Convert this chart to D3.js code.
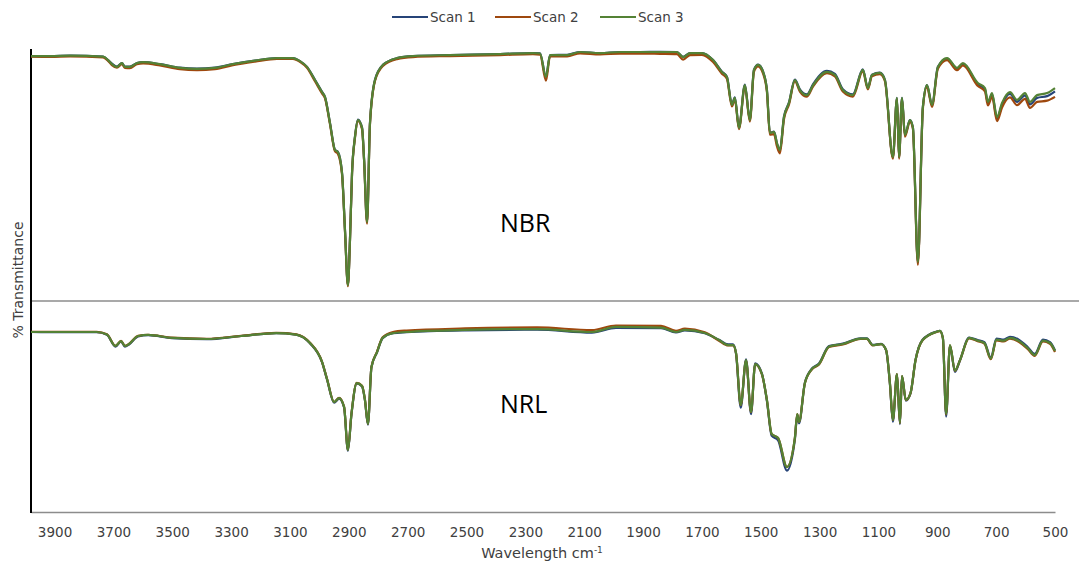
<!DOCTYPE html>
<html>
<head>
<meta charset="utf-8">
<script src="https://cdn.jsdelivr.net/npm/d3@7"></script>
<style>
  body { margin: 0; background: #fff; }
  svg { display: block; }
  text { font-family: "DejaVu Sans", sans-serif; fill: #404040; }
</style>
</head>
<body>
<div class="canvas"></div>
<script>
const dims = { w: 1079, h: 563 };

// wavenumbers (cm-1) and % transmittance
const xTicks = [3900, 3700, 3500, 3300, 3100, 2900, 2700, 2500, 2300, 2100, 1900, 1700, 1500, 1300, 1100, 900, 700, 500];
const scanNames = ['Scan 1', 'Scan 2', 'Scan 3'];
const scanColors = ['#264478', '#9e480e', '#548235'];

const nbrWave = [
  3980, 3915, 3847, 3735, 3718, 3705, 3688, 3671, 3661, 3644,
  3620, 3599, 3542, 3474, 3416, 3355, 3294, 3219, 3144, 3090,
  3066, 3042, 3015, 2991, 2981, 2964, 2947, 2937, 2923, 2913,
  2903, 2896, 2889, 2879, 2869, 2855, 2848, 2838, 2828, 2811,
  2784, 2736, 2682, 2556, 2386, 2274, 2250, 2230, 2216, 2158,
  2114, 2046, 1978, 1910, 1842, 1785, 1764, 1740, 1700, 1662,
  1632, 1615, 1598, 1588, 1574, 1554, 1537, 1523, 1509, 1492,
  1479, 1469, 1455, 1445, 1435, 1421, 1404, 1384, 1367, 1343,
  1322, 1275, 1248, 1221, 1187, 1153, 1136, 1122, 1095, 1078,
  1051, 1037, 1030, 1020, 1010, 993, 983, 966, 949, 935,
  918, 898, 867, 833, 813, 762, 738, 728, 714, 697,
  680, 653, 629, 602, 585, 561, 527, 500
];
const nbrScan1 = [
  97.2, 97.2, 97.4, 97.0, 95.6, 94.2, 93.0, 94.4, 93.0, 93.0,
  94.4, 94.8, 94.0, 92.6, 92.2, 92.6, 94.0, 95.4, 96.4, 96.4,
  95.2, 92.9, 87.8, 83.0, 81.0, 70.8, 60.0, 59.2, 50.9, 28.4,
  6.4, 24.4, 50.9, 65.2, 72.0, 68.8, 56.2, 31.4, 70.8, 87.8,
  93.7, 96.4, 97.2, 97.6, 98.0, 98.4, 98.3, 89.0, 97.6, 97.7,
  98.8, 98.4, 98.8, 98.8, 98.9, 98.8, 96.9, 98.4, 98.4, 95.6,
  91.0, 89.0, 78.0, 80.8, 68.8, 85.9, 72.0, 91.8, 93.8, 91.0,
  83.8, 66.8, 67.2, 62.6, 59.6, 73.2, 78.8, 87.9, 84.0, 82.0,
  86.1, 91.3, 90.1, 84.0, 82.0, 91.9, 84.6, 89.8, 90.6, 87.8,
  57.0, 80.6, 57.0, 80.6, 65.8, 71.8, 69.0, 15.2, 77.0, 85.7,
  77.8, 92.9, 96.2, 92.3, 94.1, 86.0, 84.0, 78.5, 82.0, 72.4,
  78.0, 82.2, 79.0, 81.6, 78.0, 80.6, 81.3, 83.2
];
const nbrScan2 = [
  97.0, 96.9, 97.1, 96.7, 95.3, 93.6, 92.6, 94.0, 92.5, 92.4,
  94.0, 94.3, 93.5, 92.0, 91.6, 92.0, 93.6, 95.0, 96.1, 96.1,
  94.9, 92.5, 87.2, 82.4, 80.5, 70.2, 59.4, 58.4, 50.2, 27.8,
  5.9, 23.8, 50.4, 64.7, 71.5, 68.2, 55.6, 30.7, 70.2, 87.3,
  93.3, 96.0, 96.8, 97.2, 97.6, 98.0, 97.8, 87.4, 97.1, 97.1,
  98.3, 97.9, 98.2, 98.2, 98.1, 98.0, 95.8, 97.6, 97.7, 94.8,
  90.2, 88.2, 77.2, 80.0, 68.2, 85.2, 71.2, 91.0, 93.1, 90.2,
  83.0, 66.0, 66.2, 61.4, 58.6, 72.2, 78.0, 87.2, 83.1, 81.1,
  85.2, 90.4, 89.1, 83.1, 81.1, 91.2, 84.0, 89.2, 90.0, 87.2,
  56.5, 80.1, 56.5, 80.0, 65.2, 71.2, 68.4, 14.3, 76.4, 85.0,
  77.0, 92.2, 95.6, 91.6, 93.5, 85.3, 83.2, 77.6, 81.0, 71.4,
  76.8, 80.8, 77.7, 80.2, 76.6, 79.0, 79.5, 81.0
];
const nbrScan3 = [
  97.2, 97.2, 97.4, 97.0, 95.6, 94.0, 92.9, 94.4, 92.9, 92.9,
  94.4, 94.8, 94.0, 92.5, 92.1, 92.5, 94.0, 95.4, 96.4, 96.4,
  95.2, 92.9, 87.7, 82.9, 81.0, 70.6, 59.9, 59.1, 50.8, 28.2,
  6.3, 24.2, 50.8, 65.1, 71.8, 68.7, 56.0, 31.3, 70.6, 87.7,
  93.7, 96.4, 97.2, 97.6, 98.0, 98.4, 98.2, 88.9, 97.6, 97.6,
  98.8, 98.4, 98.8, 98.8, 98.8, 98.8, 96.8, 98.4, 98.4, 95.6,
  90.9, 88.9, 77.8, 80.6, 68.7, 85.7, 71.8, 91.7, 93.7, 90.9,
  83.7, 66.7, 67.1, 62.7, 59.9, 73.0, 78.6, 87.7, 83.7, 81.7,
  85.7, 90.9, 89.7, 83.7, 81.7, 91.7, 84.5, 89.7, 90.5, 87.7,
  57.1, 80.6, 57.1, 80.6, 65.9, 71.8, 69.0, 15.5, 77.0, 85.7,
  77.8, 92.9, 96.4, 92.5, 94.4, 86.5, 84.5, 79.0, 82.5, 73.0,
  78.6, 82.9, 79.8, 82.5, 79.0, 81.7, 82.5, 84.5
];

const nrlWave = [
  3980, 3881, 3757, 3722, 3693, 3674, 3661, 3647, 3616, 3582,
  3501, 3382, 3266, 3147, 3079, 3032, 2991, 2974, 2950, 2933,
  2916, 2903, 2891, 2873, 2855, 2845, 2835, 2823, 2804, 2785,
  2750, 2704, 2505, 2260, 2074, 1992, 1839, 1788, 1758, 1690,
  1642, 1611, 1594, 1584, 1568, 1550, 1533, 1519, 1496, 1479,
  1463, 1441, 1411, 1384, 1376, 1370, 1350, 1326, 1302, 1268,
  1221, 1161, 1139, 1120, 1091, 1074, 1061, 1051, 1037, 1027,
  1020, 1007, 991, 974, 950, 905, 891, 881, 870, 857,
  840, 823, 792, 763, 740, 718, 699, 675, 653, 622,
  593, 569, 541, 517, 500
];
const nrlScan1 = [
  85.3, 85.2, 85.2, 84.0, 78.4, 80.8, 78.4, 79.4, 83.2, 83.8,
  82.4, 81.9, 83.4, 84.8, 84.1, 80.0, 71.0, 62.8, 51.8, 53.7,
  49.5, 29.0, 46.2, 61.0, 59.5, 52.8, 41.4, 68.6, 75.7, 82.4,
  84.7, 85.2, 86.1, 86.4, 85.0, 87.3, 87.1, 85.1, 86.1, 84.7,
  81.6, 79.4, 79.4, 75.0, 49.4, 72.4, 46.4, 70.4, 65.6, 52.6,
  36.2, 34.0, 19.6, 34.4, 46.0, 42.0, 61.3, 68.0, 70.4, 78.6,
  79.8, 82.3, 82.3, 79.2, 79.7, 76.6, 60.6, 42.8, 65.2, 41.6,
  64.3, 52.8, 56.2, 72.0, 81.6, 85.4, 85.9, 82.4, 45.2, 78.8,
  66.4, 71.8, 82.7, 81.5, 80.5, 73.2, 82.2, 81.7, 83.0, 81.6,
  78.2, 74.9, 81.7, 80.5, 76.6
];
const nrlScan2 = [
  85.4, 85.4, 85.4, 84.2, 78.8, 81.1, 78.8, 79.7, 83.5, 84.0,
  82.6, 82.1, 83.5, 84.9, 84.2, 80.2, 71.2, 63.1, 52.2, 54.1,
  49.9, 29.5, 46.5, 61.2, 59.8, 53.2, 41.8, 68.8, 76.0, 82.8,
  85.3, 86.0, 87.0, 87.5, 86.2, 88.4, 88.2, 85.9, 86.9, 85.2,
  81.2, 78.9, 78.9, 75.2, 50.6, 71.8, 47.3, 70.0, 65.2, 53.0,
  37.0, 35.1, 21.3, 35.1, 46.4, 42.7, 61.0, 67.6, 69.9, 78.2,
  79.4, 82.0, 82.0, 79.0, 79.5, 76.7, 61.0, 43.5, 65.3, 42.1,
  64.4, 53.0, 56.3, 71.9, 81.4, 85.2, 85.7, 82.4, 46.3, 79.0,
  66.9, 71.9, 82.3, 81.0, 79.8, 72.4, 81.3, 80.8, 82.1, 80.6,
  77.3, 74.0, 80.8, 79.7, 75.8
];
const nrlScan3 = [
  85.3, 85.3, 85.3, 84.1, 78.7, 81.0, 78.7, 79.6, 83.4, 83.9,
  82.5, 82.0, 83.4, 84.8, 84.1, 80.1, 71.1, 63.0, 52.1, 54.0,
  49.8, 29.4, 46.4, 61.1, 59.7, 53.1, 41.7, 68.7, 75.8, 82.5,
  84.8, 85.3, 86.3, 86.7, 85.3, 87.7, 87.4, 85.3, 86.3, 84.8,
  81.5, 79.1, 79.1, 75.4, 50.7, 72.0, 47.4, 70.1, 65.4, 53.1,
  37.0, 35.1, 21.3, 35.1, 46.4, 42.7, 61.1, 67.8, 70.1, 78.4,
  79.6, 82.2, 82.2, 79.1, 79.6, 76.8, 61.1, 43.6, 65.4, 42.2,
  64.5, 53.1, 56.4, 72.0, 81.5, 85.3, 85.8, 82.5, 46.4, 79.1,
  67.0, 72.0, 82.5, 81.2, 80.1, 72.7, 81.7, 81.2, 82.5, 81.0,
  77.7, 74.4, 81.2, 80.1, 76.3
];

// init svg
const svg = d3.select('.canvas')
  .append('svg')
    .attr('width', dims.w)
    .attr('height', dims.h);

// scales: one x for both, one y per stacked panel
const x = d3.scaleLinear().domain([3980, 500]).range([31, 1055]);
const yTop = d3.scaleLinear().domain([0, 100]).range([301, 49]);
const yBot = d3.scaleLinear().domain([0, 100]).range([512, 301]);

// separator between the two spectra
svg.append('line')
  .attr('x1', 31).attr('x2', dims.w)
  .attr('y1', yTop(0)).attr('y2', yTop(0))
  .attr('stroke', '#8c8c8c')
  .attr('stroke-width', 1.5);

// x axis
const xAxis = d3.axisBottom(x)
  .tickValues(xTicks)
  .tickSize(0)
  .tickSizeOuter(0)
  .tickPadding(15)
  .tickFormat(d3.format('d'));

const xg = svg.append('g')
  .attr('transform', `translate(0,${yBot(0)})`)
  .call(xAxis);
xg.select('.domain').attr('stroke', '#8c8c8c').attr('stroke-width', 1.5);
xg.selectAll('text')
  .attr('fill', '#404040')
  .style('font-family', '"DejaVu Sans", sans-serif')
  .style('font-size', '13.5px');

// y axis line (no ticks)
svg.append('line')
  .attr('x1', 31).attr('x2', 31)
  .attr('y1', yTop(100)).attr('y2', yBot(0) + 1)
  .attr('stroke', '#000')
  .attr('stroke-width', 2);

// spectra
const drawPanel = (wave, scans, y) => {
  const line = d3.line()
    .curve(d3.curveMonotoneX)
    .x(d => x(d[0]))
    .y(d => y(d[1]));
  scans.forEach((vals, i) => {
    svg.append('path')
      .datum(wave.map((w, j) => [w, vals[j]]))
      .attr('fill', 'none')
      .attr('stroke', scanColors[i])
      .attr('stroke-width', 2.2)
      .attr('stroke-linejoin', 'round')
      .attr('d', line);
  });
};

drawPanel(nbrWave, [nbrScan1, nbrScan2, nbrScan3], yTop);
drawPanel(nrlWave, [nrlScan1, nrlScan2, nrlScan3], yBot);

// sample labels
svg.append('text')
  .attr('x', 500).attr('y', 232)
  .style('font-family', '"Open Sans", sans-serif')
  .style('font-size', '25px')
  .style('fill', '#000')
  .text('NBR');

svg.append('text')
  .attr('x', 500).attr('y', 413)
  .style('font-family', '"Open Sans", sans-serif')
  .style('font-size', '25px')
  .style('fill', '#000')
  .text('NRL');

// axis titles
const xTitle = svg.append('text')
  .attr('x', 542).attr('y', 558)
  .attr('text-anchor', 'middle')
  .style('font-size', '14.5px');
xTitle.append('tspan').text('Wavelength cm');
xTitle.append('tspan').attr('dy', -5).style('font-size', '9px').text('-1');

svg.append('text')
  .attr('transform', 'translate(23,280) rotate(-90)')
  .attr('text-anchor', 'middle')
  .style('font-size', '14px')
  .text('% Transmittance');

// legend
const legendX = [392, 495, 600];
const legend = svg.append('g');
scanNames.forEach((name, i) => {
  const g = legend.append('g').attr('transform', `translate(${legendX[i]},17)`);
  g.append('line')
    .attr('x1', 0).attr('x2', 36)
    .attr('stroke', scanColors[i])
    .attr('stroke-width', 2);
  g.append('text')
    .attr('x', 38).attr('dy', '0.35em')
    .style('font-size', '13.5px')
    .text(name);
});
</script>
</body>
</html>
